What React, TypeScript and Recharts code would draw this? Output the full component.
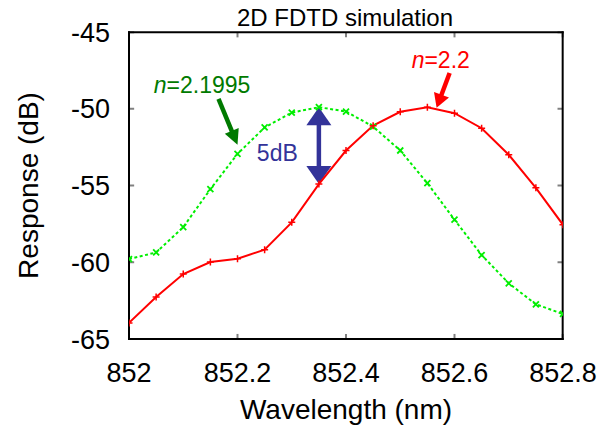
import { LineChart, Line, XAxis, YAxis, ReferenceLine, ReferenceDot } from "recharts"

const wavelength = [
    852, 852.05, 852.1, 852.15, 852.2, 852.25, 852.3, 852.35, 852.4,
    852.45, 852.5, 852.55, 852.6, 852.65, 852.7, 852.75, 852.8,
]
// n = 2.2 (red, solid)
const responseN22 = [
    -63.95, -62.26, -60.77, -59.99, -59.77, -59.18, -57.4, -54.91, -52.72,
    -51.1, -50.2, -49.9, -50.29, -51.27, -53.0, -55.15, -57.56,
]
// n = 2.1995 (green, dotted)
const responseN21995 = [
    -59.79, -59.36, -57.71, -55.24, -52.94, -51.22, -50.25, -49.9, -50.18,
    -51.16, -52.72, -54.85, -57.23, -59.53, -61.37, -62.74, -63.37,
]
const xTicks = [852, 852.2, 852.4, 852.6, 852.8]
const yTicks = [-65, -60, -55, -50, -45]

const data = wavelength.map((w, i) => ({
    w,
    red: responseN22[i],
    green: responseN21995[i],
}))

const X_MIN = 852
const X_MAX = 852.8
const Y_MIN = -65
const Y_MAX = -45
// top/right edges pulled in by a hair so they are not dropped at the domain limit
const X_EDGE = X_MAX - 0.0006
const Y_EDGE = Y_MAX - 0.02
// inward tick length in data units (about 5px each way)
const TICK_DX = 0.0095
const TICK_DY = 0.33

const FONT = "'Liberation Sans', Arial, sans-serif"
const BLUE = "#333399"
const DARK_GREEN = "#007a00"
const TICK_COLOR = "#808080"

// the four sides of the plot box, in data units
const frame = [
    [{ x: X_MIN, y: Y_MIN }, { x: X_EDGE, y: Y_MIN }],
    [{ x: X_MIN, y: Y_EDGE }, { x: X_EDGE, y: Y_EDGE }],
    [{ x: X_MIN, y: Y_MIN }, { x: X_MIN, y: Y_EDGE }],
    [{ x: X_EDGE, y: Y_MIN }, { x: X_EDGE, y: Y_EDGE }],
]

function Plus(props: any) {
    const { cx, cy, index } = props
    if (cx == null || cy == null) return <g key={`r-${index}`} />
    const s = 3.5
    return (
        <path
            key={`r-${index}`}
            d={`M${cx - s},${cy}L${cx + s},${cy}M${cx},${cy - s}L${cx},${cy + s}`}
            stroke="#ff0000"
            strokeWidth={1.5}
        />
    )
}

function Cross(props: any) {
    const { cx, cy, index } = props
    if (cx == null || cy == null) return <g key={`g-${index}`} />
    const s = 3
    return (
        <path
            key={`g-${index}`}
            d={`M${cx - s},${cy - s}L${cx + s},${cy + s}M${cx - s},${cy + s}L${cx + s},${cy - s}`}
            stroke="#00ee00"
            strokeWidth={1.8}
        />
    )
}

function arrow(color: string, headLen: number, headW: number, shaftW: number, both: boolean) {
    return (props: any) => {
        const { x1, y1, x2, y2 } = props
        const dx = x2 - x1
        const dy = y2 - y1
        const len = Math.sqrt(dx * dx + dy * dy) || 1
        const ux = dx / len
        const uy = dy / len
        const nx = -uy
        const ny = ux
        const head = (tx: number, ty: number, dirx: number, diry: number) => {
            const bx = tx - dirx * headLen
            const by = ty - diry * headLen
            return `${tx},${ty} ${bx + nx * headW / 2},${by + ny * headW / 2} ${bx - nx * headW / 2},${by - ny * headW / 2}`
        }
        const sx = both ? x1 + ux * headLen * 0.9 : x1
        const sy = both ? y1 + uy * headLen * 0.9 : y1
        const ex = x2 - ux * headLen * 0.9
        const ey = y2 - uy * headLen * 0.9
        return (
            <g>
                <line x1={sx} y1={sy} x2={ex} y2={ey} stroke={color} strokeWidth={shaftW} />
                <polygon points={head(x2, y2, ux, uy)} fill={color} />
                {both && <polygon points={head(x1, y1, -ux, -uy)} fill={color} />}
            </g>
        )
    }
}

function label(parts: { t: string; italic?: boolean }[], color: string, anchor: string, size = 23) {
    return (props: any) => (
        <text
            x={props.cx}
            y={props.cy}
            fill={color}
            fontSize={size}
            fontFamily={FONT}
            textAnchor={anchor}
        >
            {parts.map((p, i) => (
                <tspan key={i} fontStyle={p.italic ? "italic" : "normal"}>
                    {p.t}
                </tspan>
            ))}
        </text>
    )
}

export default function App() {
    return (
        <div style={{ position: "absolute", left: 0, top: 0, width: 613, height: 430, background: "#fff" }}>
            <LineChart
                width={613}
                height={430}
                data={data}
                margin={{ top: 32, right: 50, bottom: 0, left: 0 }}
            >
                <XAxis
                    dataKey="w"
                    type="number"
                    domain={[X_MIN, X_MAX]}
                    ticks={xTicks}
                    allowDataOverflow
                    height={91}
                    tickSize={0}
                    tickMargin={24}
                    axisLine={false}
                    tickLine={false}
                    tick={{ fill: "#000", fontSize: 27, fontFamily: FONT }}
                    label={{
                        value: "Wavelength (nm)",
                        position: "insideBottom",
                        offset: 11,
                        fill: "#000",
                        fontSize: 28,
                        fontFamily: FONT,
                    }}
                />
                <YAxis
                    type="number"
                    domain={[Y_MIN, Y_MAX]}
                    ticks={yTicks}
                    allowDataOverflow
                    width={129}
                    tickSize={0}
                    tickMargin={19}
                    axisLine={false}
                    tickLine={false}
                    tick={{ fill: "#000", fontSize: 27, fontFamily: FONT }}
                    label={{
                        value: "Response (dB)",
                        angle: -90,
                        position: "center",
                        dx: -36,
                        fill: "#000",
                        fontSize: 28,
                        fontFamily: FONT,
                    }}
                />

                {/* inward ticks on all four sides */}
                {xTicks.map((t) => (
                    <ReferenceLine
                        key={`xb-${t}`}
                        segment={[{ x: Math.min(t, X_EDGE), y: Y_MIN }, { x: Math.min(t, X_EDGE), y: Y_MIN + TICK_DY }]}
                        stroke={TICK_COLOR}
                        strokeWidth={2}
                        ifOverflow="visible"
                    />
                ))}
                {xTicks.map((t) => (
                    <ReferenceLine
                        key={`xt-${t}`}
                        segment={[{ x: Math.min(t, X_EDGE), y: Y_EDGE }, { x: Math.min(t, X_EDGE), y: Y_EDGE - TICK_DY }]}
                        stroke={TICK_COLOR}
                        strokeWidth={2}
                        ifOverflow="visible"
                    />
                ))}
                {yTicks.map((t) => (
                    <ReferenceLine
                        key={`yl-${t}`}
                        segment={[{ x: X_MIN, y: Math.min(t, Y_EDGE) }, { x: X_MIN + TICK_DX, y: Math.min(t, Y_EDGE) }]}
                        stroke={TICK_COLOR}
                        strokeWidth={2}
                        ifOverflow="visible"
                    />
                ))}
                {yTicks.map((t) => (
                    <ReferenceLine
                        key={`yr-${t}`}
                        segment={[{ x: X_EDGE, y: Math.min(t, Y_EDGE) }, { x: X_EDGE - TICK_DX, y: Math.min(t, Y_EDGE) }]}
                        stroke={TICK_COLOR}
                        strokeWidth={2}
                        ifOverflow="visible"
                    />
                ))}
                {frame.map((seg, i) => (
                    <ReferenceLine
                        key={`frame-${i}`}
                        segment={seg}
                        stroke="#000"
                        strokeWidth={2}
                        strokeLinecap="square"
                        ifOverflow="visible"
                    />
                ))}

                <ReferenceLine
                    segment={[{ x: 852.35, y: -49.9 }, { x: 852.35, y: -54.91 }]}
                    shape={arrow(BLUE, 18, 25, 4.5, true)}
                />
                <ReferenceLine
                    segment={[{ x: 852.165, y: -49.36 }, { x: 852.2, y: -52.35 }]}
                    shape={arrow(DARK_GREEN, 15, 15, 4.5, false)}
                />
                <ReferenceLine
                    segment={[{ x: 852.591, y: -47.67 }, { x: 852.567, y: -49.94 }]}
                    shape={arrow("#ff0000", 14, 16, 4.5, false)}
                />
                <ReferenceDot
                    x={852.0456}
                    y={-48.97}
                    r={0}
                    shape={label([{ t: "n", italic: true }, { t: "=2.1995" }], DARK_GREEN, "start")}
                />
                <ReferenceDot
                    x={852.521}
                    y={-47.34}
                    r={0}
                    shape={label([{ t: "n", italic: true }, { t: "=2.2" }], "#ff0000", "start")}
                />
                <ReferenceDot
                    x={852.2357}
                    y={-53.39}
                    r={0}
                    shape={label([{ t: "5dB" }], BLUE, "start")}
                />
                <ReferenceDot
                    x={852.4}
                    y={Y_EDGE}
                    r={0}
                    ifOverflow="visible"
                    shape={(p: any) => (
                        <text
                            x={p.cx - 1}
                            y={p.cy - 6}
                            fill="#000"
                            fontSize={24}
                            fontFamily={FONT}
                            textAnchor="middle"
                        >
                            2D FDTD simulation
                        </text>
                    )}
                />

                <Line
                    dataKey="green"
                    stroke="#00ee00"
                    strokeWidth={2}
                    strokeDasharray="3 2.5"
                    dot={Cross}
                    activeDot={false}
                    isAnimationActive={false}
                />
                <Line
                    dataKey="red"
                    stroke="#ff0000"
                    strokeWidth={2}
                    dot={Plus}
                    activeDot={false}
                    isAnimationActive={false}
                />
            </LineChart>
        </div>
    )
}
